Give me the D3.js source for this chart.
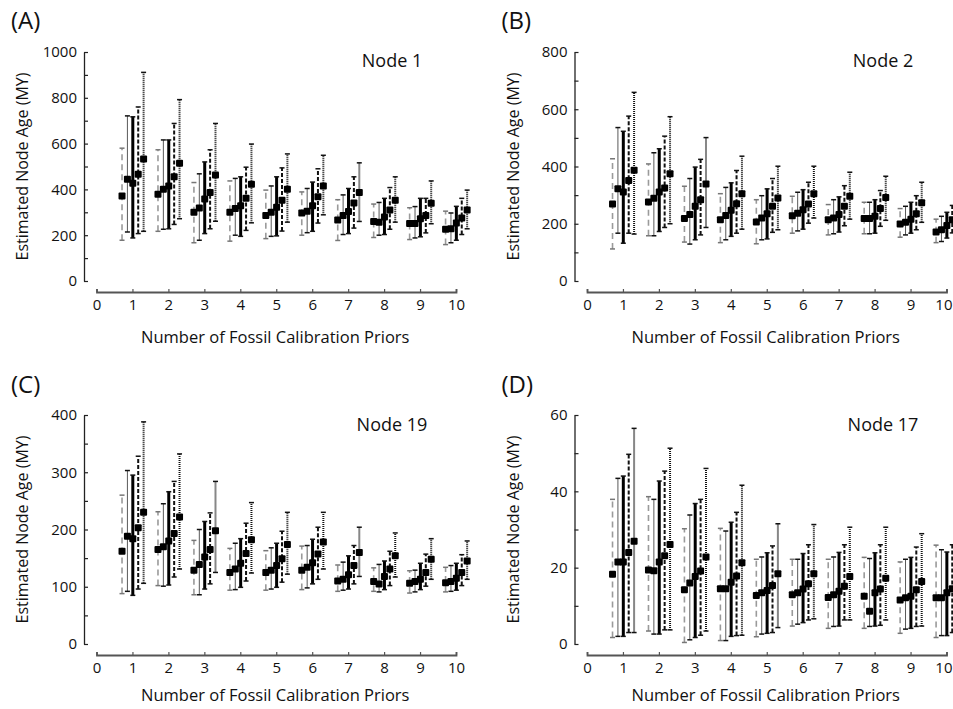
<!DOCTYPE html>
<html><head><meta charset="utf-8">
<script src="https://cdn.jsdelivr.net/npm/d3@7"></script>
<style>body{margin:0;background:#fff}svg{display:block;font-family:"Open Sans",sans-serif}</style>
</head><body><svg id="c" width="953" height="709"></svg>
<script>
// ---------- DATA ----------
const groups = [1,2,3,4,5,6,7,8,9,10];
const xTicks = [0,1,2,3,4,5,6,7,8,9,10];
const panelLetters = ["(A)","(B)","(C)","(D)"];
const nodeNames = ["Node 1","Node 2","Node 19","Node 17"];
const yMax = [1000,800,400,60];
const yMinorStep = [100,100,50,10];
const yLabelStep = [200,200,100,20];
const xTitle = "Number of Fossil Calibration Priors";
const yTitle = "Estimated Node Age (MY)";

// rows = 5 series, columns = groups 1..10
const A_mean = [
 [371,379,300,300,286,297,266,260,251,226],
 [444,401,319,317,300,305,286,257,251,228],
 [427,415,358,329,322,329,303,279,272,253],
 [466,455,386,361,353,368,341,310,286,275],
 [533,514,463,422,401,415,386,353,339,310]];
const A_lo = [
 [178,217,167,174,185,200,177,190,181,159],
 [214,226,178,200,195,211,203,200,188,167],
 [188,228,207,195,197,217,207,203,193,178],
 [207,247,228,221,218,253,231,226,210,203],
 [217,272,261,254,257,289,260,257,250,228]];
const A_hi = [
 [580,573,430,437,397,389,355,336,320,305],
 [721,616,468,448,415,404,376,343,325,297],
 [717,616,520,455,455,432,404,361,361,326],
 [760,688,573,497,494,490,455,408,361,361],
 [911,792,688,598,555,549,516,455,437,397]];

const B_mean = [
 [269,276,218,214,206,228,214,218,199,171],
 [322,289,232,229,220,237,220,218,205,179],
 [311,311,261,247,235,249,232,226,216,194],
 [351,325,284,270,261,269,261,253,235,214],
 [387,375,339,305,290,305,296,292,273,250]];
const B_lo = [
 [112,158,136,134,130,167,161,165,153,134],
 [167,158,129,144,144,175,165,165,161,138],
 [132,173,144,156,147,181,171,167,167,150],
 [167,187,161,167,170,202,193,191,179,168],
 [164,200,187,181,179,220,216,212,205,200]];
const B_hi = [
 [427,409,331,305,284,296,267,275,253,216],
 [536,448,358,327,298,310,284,275,261,226],
 [523,462,398,343,322,319,294,284,275,240],
 [576,506,425,386,358,345,333,316,298,264],
 [659,574,501,436,401,401,380,366,345,310]];

const C_mean = [
 [162,165,129,125,125,129,110,109,106,107],
 [188,170,139,131,129,134,113,105,109,109],
 [184,180,152,141,137,142,121,118,113,115],
 [203,193,165,158,149,157,137,131,125,125],
 [230,222,198,182,174,178,160,154,148,145]];
const C_lo = [
 [88,102,86,94,94,95,92,92,89,91],
 [92,101,86,95,96,98,94,91,91,92],
 [85,103,96,99,99,105,96,95,95,94],
 [96,117,105,110,108,113,105,102,101,102],
 [106,131,125,124,122,131,118,117,113,113]];
const C_hi = [
 [260,231,181,167,163,171,138,133,128,134],
 [303,245,200,176,168,172,143,139,129,137],
 [295,266,214,184,176,183,154,145,141,141],
 [328,284,229,211,197,204,172,162,157,156],
 [388,332,284,247,230,230,204,194,184,180]];

const D_mean = [
 [18.3,19.4,14.2,14.5,12.7,12.9,12.2,12.5,11.5,12.1],
 [21.5,19.2,16.0,14.5,13.4,13.4,12.9,8.6,12.1,12.1],
 [21.5,21.5,17.7,16.2,14.0,14.4,13.8,13.4,12.5,13.4],
 [24.0,23.1,19.1,17.8,15.3,15.8,15.1,14.4,14.2,14.5],
 [26.9,26.1,22.8,21.3,18.4,18.4,17.7,17.2,16.4,16.0]];
const D_lo = [
 [1.7,3.4,0.4,0.9,1.9,4.7,4.1,4.1,2.8,1.7],
 [2.0,2.6,1.1,0.9,2.6,5.2,4.6,4.6,3.9,2.2],
 [2.0,2.6,1.7,2.0,2.8,5.6,4.7,4.7,4.1,2.2],
 [3.0,3.7,2.3,2.2,3.0,6.3,6.3,4.9,4.6,3.0],
 [3.0,3.7,3.4,2.3,4.3,6.6,6.3,6.3,4.7,4.0]];
const D_hi = [
 [37.9,38.6,30.2,30.3,22.2,22.2,22.2,22.7,21.5,25.9],
 [43.4,37.9,33.8,29.6,22.8,22.2,22.8,22.4,22.2,24.7],
 [44.0,42.7,36.8,31.9,23.9,23.7,24.0,23.9,22.7,24.1],
 [49.7,45.3,37.9,34.5,25.7,26.0,26.0,26.0,25.4,26.0],
 [56.5,51.3,46.0,41.6,31.5,31.3,30.6,30.6,28.9,29.0]];

const seriesOffsets = [-0.29,-0.14,0.01,0.16,0.31];

// ---------- STYLE / LAYOUT ----------
const seriesStyle = [
  {stroke:"#9a9a9a", width:1.6, dash:"6,4"},
  {stroke:"#5a5a5a", width:1.0, dash:null},
  {stroke:"#000",    width:3.0, dash:null},
  {stroke:"#111",    width:2.0, dash:"4,2"},
  {stroke:"#111",    width:2.0, dash:"1,1"}
];
const panels = [
  {mean:A_mean, lo:A_lo, hi:A_hi, dx:0,     dy:0,   titleY:343},
  {mean:B_mean, lo:B_lo, hi:B_hi, dx:490.5, dy:0,   titleY:343},
  {mean:C_mean, lo:C_lo, hi:C_hi, dx:0,     dy:363, titleY:338},
  {mean:D_mean, lo:D_lo, hi:D_hi, dx:490.5, dy:363, titleY:338}
];
const W = 953;
const yAxisX = 84, yBottom = 281, yTop = 52, xAxisY = 292, xLeft = 96.5, xRight = 456;

const svg = d3.select("#c");

panels.forEach((p, i) => {
  const g = svg.append("g").attr("transform", `translate(${p.dx},${p.dy})`);
  const y = d3.scaleLinear().domain([0, yMax[i]]).range([yBottom, yTop]);
  const x = d3.scaleLinear().domain([0, 10]).range([xLeft, xRight]);

  // y axis
  const yt = d3.range(0, yMax[i] + 1e-9, yMinorStep[i]);
  const ya = d3.axisLeft(y).tickValues(yt).tickSizeInner(-4).tickSizeOuter(0).tickPadding(7)
    .tickFormat(v => (Math.abs(v / yLabelStep[i] - Math.round(v / yLabelStep[i])) < 1e-6) ? d3.format("d")(v) : "");
  const yg = g.append("g").attr("transform", `translate(${yAxisX},0)`).call(ya);
  yg.select(".domain").attr("stroke", "#222").attr("stroke-width", 1.3);
  yg.selectAll(".tick line").attr("stroke", "#222").attr("stroke-width", 1.2);
  yg.selectAll(".tick text").attr("font-family", "Open Sans").attr("font-size", 15).attr("fill", "#111");

  // x axis
  const xa = d3.axisBottom(x).tickValues(xTicks).tickSizeInner(-3).tickSizeOuter(-3).tickPadding(7)
    .tickFormat(d3.format("d"));
  const xg = g.append("g").attr("transform", `translate(0,${xAxisY})`).call(xa);
  xg.select(".domain").attr("stroke", "#555").attr("stroke-width", 1.8);
  xg.selectAll(".tick line").attr("stroke", "#555").attr("stroke-width", 1.2);
  xg.selectAll(".tick text").attr("font-family", "Open Sans").attr("font-size", 15).attr("fill", "#111");
  // keep the last label inside the picture's right edge
  xg.selectAll(".tick").filter(d => p.dx + x(d) + 9 > W)
    .select("text").attr("text-anchor", "end").attr("x", d => W - 1 - p.dx - x(d));

  // titles
  g.append("text").attr("x", (xLeft + xRight) / 2 - 1).attr("y", p.titleY).attr("text-anchor", "middle")
    .attr("font-size", 16.5).attr("fill", "#111").text(xTitle);
  g.append("text").attr("transform", `translate(28,${(yTop + yBottom) / 2}) rotate(-90)`)
    .attr("text-anchor", "middle").attr("font-size", 16).attr("fill", "#111").text(yTitle);
  g.append("text").attr("x", 11).attr("y", i < 2 ? 29 : 30).attr("font-size", 24).attr("fill", "#111").text(panelLetters[i]);
  g.append("text").attr("x", i % 2 === 0 ? 392 : 392.5).attr("y", i < 2 ? 67 : 68).attr("text-anchor", "middle")
    .attr("font-size", 18).attr("fill", "#111").text(nodeNames[i]);

  // error bars
  seriesOffsets.forEach((off, s) => {
    const st = seriesStyle[s];
    const sg = g.append("g");
    groups.forEach((grp, k) => {
      const cx = x(grp + off);
      const ln = sg.append("line").attr("x1", cx).attr("x2", cx)
        .attr("y1", y(p.lo[s][k])).attr("y2", y(p.hi[s][k]))
        .attr("stroke", st.stroke).attr("stroke-width", st.width);
      if (st.dash) ln.attr("stroke-dasharray", st.dash);
      [p.lo[s][k], p.hi[s][k]].forEach(v => {
        sg.append("line").attr("x1", cx - 2.5).attr("x2", cx + 2.5)
          .attr("y1", y(v)).attr("y2", y(v))
          .attr("stroke", s === 0 ? "#777" : "#111").attr("stroke-width", 1.5);
      });
      sg.append("rect").attr("x", cx - 3.5).attr("y", y(p.mean[s][k]) - 3.5)
        .attr("width", 7).attr("height", 7).attr("rx", 1).attr("fill", "#000");
    });
  });
});
</script>
</body></html>
